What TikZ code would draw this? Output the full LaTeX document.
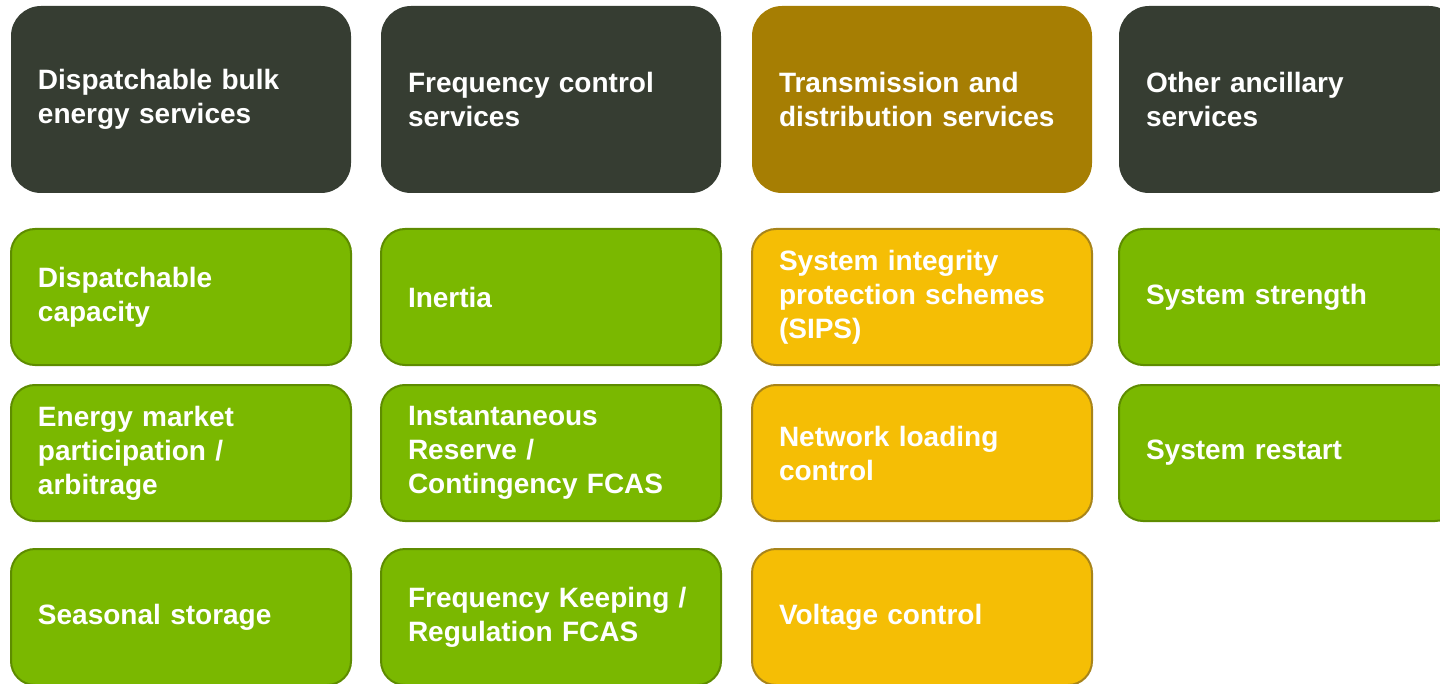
\documentclass[tikz,border=0pt]{standalone}
\usepackage{fontspec}
\setmainfont{Liberation Sans}
\usetikzlibrary{positioning}
\definecolor{headdark}{HTML}{363D32}
\definecolor{headgold}{HTML}{A67E03}
\definecolor{leafgreen}{HTML}{7AB800}
\definecolor{greenedge}{HTML}{5E8C00}
\definecolor{leafgold}{HTML}{F5BE05}
\definecolor{goldedge}{HTML}{A8841A}
\tikzset{
        node distance=14pt,
        box/.style={rounded corners=12pt, minimum height=68pt, text width=143pt,
                    inner xsep=13.5pt, align=left, text=white, line width=1pt,
                    font=\bfseries\fontsize{14}{17}\selectfont},
        head/.style={box, rounded corners=15pt, minimum height=93.5pt, fill=headdark},
        goldhead/.style={head, fill=headgold},
        greenbox/.style={box, fill=leafgreen, draw=greenedge},
        goldbox/.style={box, fill=leafgold, draw=goldedge}
        }
\begin{document}
\begin{tikzpicture}
        \clip (0,0) rectangle (720pt,-342pt);
        % headers
        \node[head, anchor=north west](bulk) at (5pt,-2.5pt){Dispatchable bulk\\energy services};
        \node[head, right=of bulk](freq){Frequency control\\services};
        \node[goldhead, right=14.5pt of freq](trans){Transmission and\\distribution services};
        \node[head, right=12.5pt of trans](other){Other ancillary\\services};
        % first row
        \node[greenbox, below=17pt of bulk](capacity){Dispatchable\\capacity};
        \node[greenbox, below=17pt of freq](inertia){Inertia};
        \node[goldbox, below=17pt of trans](sips){System integrity\\protection schemes\\(SIPS)};
        \node[greenbox, below=17pt of other](strength){System strength};
        % second row
        \node[greenbox, below=9pt of capacity](market){Energy market\\participation /\\arbitrage};
        \node[greenbox, below=9pt of inertia](reserve){Instantaneous\\Reserve /\\Contingency FCAS};
        \node[goldbox, below=9pt of sips](loading){Network loading\\control};
        \node[greenbox, below=9pt of strength](restart){System restart};
        % third row
        \node[greenbox, below=13pt of market](seasonal){Seasonal storage};
        \node[greenbox, below=13pt of reserve](keeping){Frequency Keeping /\\Regulation FCAS};
        \node[goldbox, below=13pt of loading](voltage){Voltage control};
\end{tikzpicture}
\end{document}
